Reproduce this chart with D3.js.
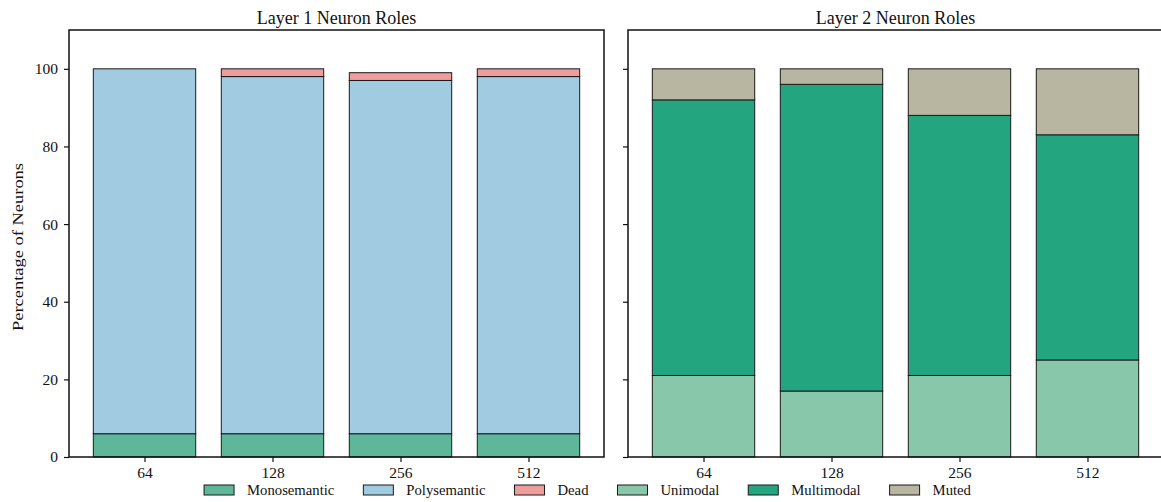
<!DOCTYPE html>
<html>
<head>
<meta charset="utf-8">
<script src="https://cdn.jsdelivr.net/npm/d3@7"></script>
<style>
  body { margin: 0; background: #fff; }
  text { font-family: "Liberation Serif", "DejaVu Serif", serif; fill: #111; }
</style>
</head>
<body>
<script>
var w = 1161, h = 502;

// data
var sizes = ["64", "128", "256", "512"];
var monosemantic = [6, 6, 6, 6];
var polysemantic = [94, 92, 91, 92];
var dead = [0, 2, 2, 2];
var unimodal = [21, 17, 21, 25];
var multimodal = [71, 79, 67, 58];
var muted = [8, 4, 12, 17];
var yTicks = [0, 20, 40, 60, 80, 100];

var panels = [
  { title: "Layer 1 Neuron Roles", left: 69,
    series: [
      { name: "Monosemantic", values: monosemantic, color: "#5fb799" },
      { name: "Polysemantic", values: polysemantic, color: "#a0cbe1" },
      { name: "Dead", values: dead, color: "#ee9d9d" }
    ] },
  { title: "Layer 2 Neuron Roles", left: 628,
    series: [
      { name: "Unimodal", values: unimodal, color: "#89c7ab" },
      { name: "Multimodal", values: multimodal, color: "#23a680" },
      { name: "Muted", values: muted, color: "#b8b5a1" }
    ] }
];

var pw = 535, plotTop = 30, plotBottom = 457;

var svg = d3.select("body").append("svg")
    .attr("width", w).attr("height", h);

var y = d3.scaleLinear().domain([0, 110]).range([plotBottom, plotTop]);
var barW = 0.8;

panels.forEach(function(p, pi) {
  var x = d3.scaleLinear().domain([-0.59, 3.59]).range([p.left, p.left + pw]);
  var g = svg.append("g");

  // stacked bars
  var base = sizes.map(function() { return 0; });
  p.series.forEach(function(s) {
    g.selectAll(null).data(sizes).enter().append("rect")
      .attr("x", function(d, i) { return x(i - barW / 2); })
      .attr("width", x(barW) - x(0))
      .attr("y", function(d, i) { return y(base[i] + s.values[i]); })
      .attr("height", function(d, i) { return y(base[i]) - y(base[i] + s.values[i]); })
      .attr("fill", s.color)
      .attr("stroke", "#1a1a1a")
      .attr("stroke-width", 1)
      .style("display", function(d, i) { return s.values[i] > 0 ? null : "none"; });
    s.values.forEach(function(v, i) { base[i] += v; });
  });

  // y axis
  var yAxis = d3.axisLeft(y).tickValues(yTicks).tickSize(5).tickPadding(6);
  if (pi === 1) yAxis.tickFormat("");
  var ya = g.append("g").attr("transform", "translate(" + p.left + ",0)").call(yAxis);
  ya.select(".domain").remove();
  ya.selectAll("line").attr("stroke", "#111").attr("stroke-width", 1.2);
  ya.selectAll("text").style("font-size", "15.5px").attr("fill", "#111");

  // x axis
  var xAxis = d3.axisBottom(x).tickValues([0, 1, 2, 3])
      .tickFormat(function(i) { return sizes[i]; }).tickSize(5).tickPadding(5);
  var xa = g.append("g").attr("transform", "translate(0," + plotBottom + ")").call(xAxis);
  xa.select(".domain").remove();
  xa.selectAll("line").attr("stroke", "#111").attr("stroke-width", 1.2);
  xa.selectAll("text").style("font-size", "15.5px").attr("fill", "#111");

  // frame
  g.append("rect")
    .attr("x", p.left).attr("y", plotTop)
    .attr("width", pw).attr("height", plotBottom - plotTop)
    .attr("fill", "none").attr("stroke", "#111").attr("stroke-width", 1.5);

  g.append("text")
    .attr("x", p.left + pw / 2).attr("y", 24)
    .attr("text-anchor", "middle")
    .style("font-size", "18px")
    .text(p.title);
});

svg.append("text")
  .attr("transform", "translate(23,247) rotate(-90)")
  .attr("text-anchor", "middle")
  .attr("textLength", 168)
  .attr("lengthAdjust", "spacingAndGlyphs")
  .style("font-size", "15.5px")
  .text("Percentage of Neurons");

// legend
var items = panels[0].series.concat(panels[1].series);
var leg = svg.append("g");
var lx = 0;
items.forEach(function(s) {
  var it = leg.append("g").attr("transform", "translate(" + lx + ",0)");
  it.append("rect").attr("x", 0).attr("y", -5).attr("width", 30).attr("height", 10)
    .attr("fill", s.color).attr("stroke", "#1a1a1a").attr("stroke-width", 1);
  var t = it.append("text").attr("x", 43).attr("y", 5)
    .style("font-size", "14.7px").text(s.name);
  lx += 43 + t.node().getComputedTextLength() + 29;
});
lx -= 29;
leg.attr("transform", "translate(" + (587.5 - lx / 2) + ",490)");
</script>
</body>
</html>
